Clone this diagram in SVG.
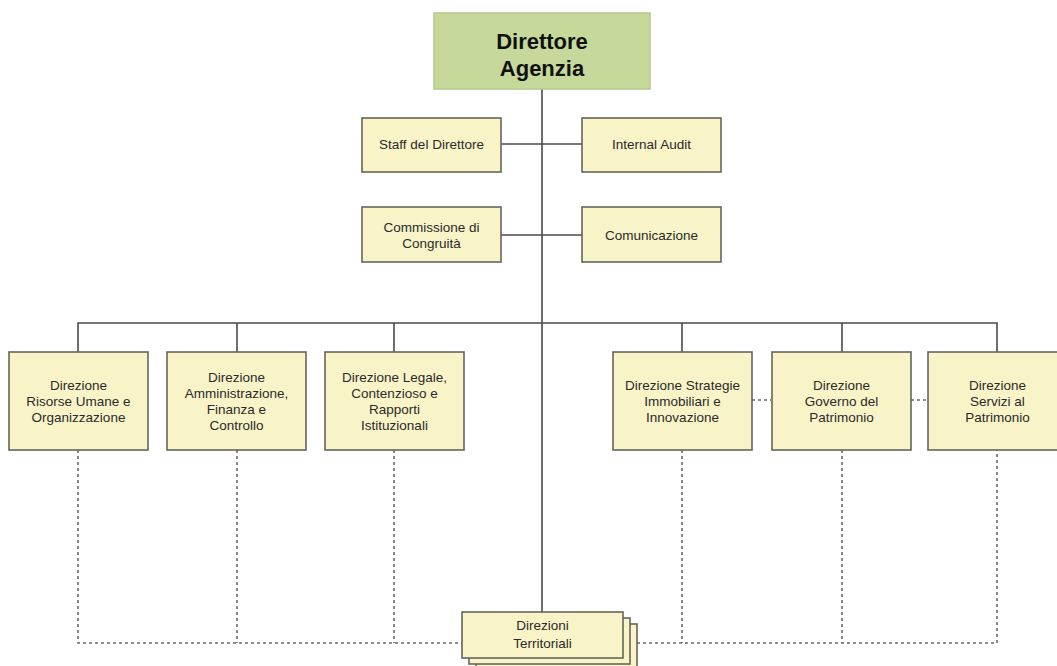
<svg xmlns="http://www.w3.org/2000/svg" width="1057" height="666" viewBox="0 0 1057 666">
<style>
.box{fill:#f9f4c8;stroke:#66665c;stroke-width:1.6}
.top{fill:#c6d99b;stroke:#b4c88a;stroke-width:1.5}
.t{font-family:"Liberation Sans",Arial,sans-serif;font-size:13.5px;fill:#2a2a2a;text-anchor:middle}
.tb{font-family:"Liberation Sans",Arial,sans-serif;font-size:22px;font-weight:bold;fill:#111;text-anchor:middle}
.ln{stroke:#4a4a4a;stroke-width:1.6;fill:none}
.dl{stroke:#6a6a6a;stroke-width:1.6;fill:none;stroke-dasharray:3 3}
</style>
<rect width="1057" height="666" fill="#fff"/>
<g id="connectors">
<line class="ln" x1="542" y1="89" x2="542" y2="612"/>
<line class="ln" x1="501" y1="144" x2="582" y2="144"/>
<line class="ln" x1="501" y1="235" x2="582" y2="235"/>
<polyline class="ln" points="78,352 78,323 997,323 997,352"/>
<line class="ln" x1="237" y1="323" x2="237" y2="352"/>
<line class="ln" x1="394" y1="323" x2="394" y2="352"/>
<line class="ln" x1="682" y1="323" x2="682" y2="352"/>
<line class="ln" x1="842" y1="323" x2="842" y2="352"/>
<polyline class="dl" points="78,450 78,643 462,643"/>
<line class="dl" x1="237" y1="450" x2="237" y2="643"/>
<line class="dl" x1="394" y1="450" x2="394" y2="643"/>
<polyline class="dl" points="637,643 997,643 997,450"/>
<line class="dl" x1="682" y1="450" x2="682" y2="643"/>
<line class="dl" x1="842" y1="450" x2="842" y2="643"/>
<line class="dl" x1="752" y1="400" x2="771" y2="400"/>
<line class="dl" x1="911" y1="400" x2="928" y2="400"/>
</g>
<g id="direttore">
<rect class="top" x="434" y="13" width="216" height="76"/>
<text class="tb" x="542" y="49">Direttore</text>
<text class="tb" x="542" y="76">Agenzia</text>
</g>
<g id="staff">
<rect class="box" x="362" y="118" width="139" height="54"/>
<text class="t" x="431.5" y="149">Staff del Direttore</text>
</g>
<g id="audit">
<rect class="box" x="582" y="118" width="139" height="54"/>
<text class="t" x="651.5" y="149">Internal Audit</text>
</g>
<g id="commissione">
<rect class="box" x="362" y="207" width="139" height="55"/>
<text class="t" x="431.5" y="232">Commissione di</text>
<text class="t" x="431.5" y="248">Congruità</text>
</g>
<g id="comunicazione">
<rect class="box" x="582" y="207" width="139" height="55"/>
<text class="t" x="651.5" y="240">Comunicazione</text>
</g>
<g id="risorse">
<rect class="box" x="9" y="352" width="139" height="98"/>
<text class="t" x="78.5" y="390">Direzione</text>
<text class="t" x="78.5" y="406">Risorse Umane e</text>
<text class="t" x="78.5" y="422">Organizzazione</text>
</g>
<g id="amministrazione">
<rect class="box" x="167" y="352" width="139" height="98"/>
<text class="t" x="236.5" y="382">Direzione</text>
<text class="t" x="236.5" y="398">Amministrazione,</text>
<text class="t" x="236.5" y="414">Finanza e</text>
<text class="t" x="236.5" y="430">Controllo</text>
</g>
<g id="legale">
<rect class="box" x="325" y="352" width="139" height="98"/>
<text class="t" x="394.5" y="382">Direzione Legale,</text>
<text class="t" x="394.5" y="398">Contenzioso e</text>
<text class="t" x="394.5" y="414">Rapporti</text>
<text class="t" x="394.5" y="430">Istituzionali</text>
</g>
<g id="strategie">
<rect class="box" x="613" y="352" width="139" height="98"/>
<text class="t" x="682.5" y="390">Direzione Strategie</text>
<text class="t" x="682.5" y="406">Immobiliari e</text>
<text class="t" x="682.5" y="422">Innovazione</text>
</g>
<g id="governo">
<rect class="box" x="772" y="352" width="139" height="98"/>
<text class="t" x="841.5" y="390">Direzione</text>
<text class="t" x="841.5" y="406">Governo del</text>
<text class="t" x="841.5" y="422">Patrimonio</text>
</g>
<g id="servizi">
<rect class="box" x="928" y="352" width="139" height="98"/>
<text class="t" x="997.5" y="390">Direzione</text>
<text class="t" x="997.5" y="406">Servizi al</text>
<text class="t" x="997.5" y="422">Patrimonio</text>
</g>
<g id="territoriali">
<rect class="box" x="476" y="624" width="161" height="46"/>
<rect class="box" x="469" y="618" width="161" height="46"/>
<rect class="box" x="462" y="612" width="161" height="46"/>
<text class="t" x="542.5" y="630">Direzioni</text>
<text class="t" x="542.5" y="648">Territoriali</text>
</g>
</svg>
